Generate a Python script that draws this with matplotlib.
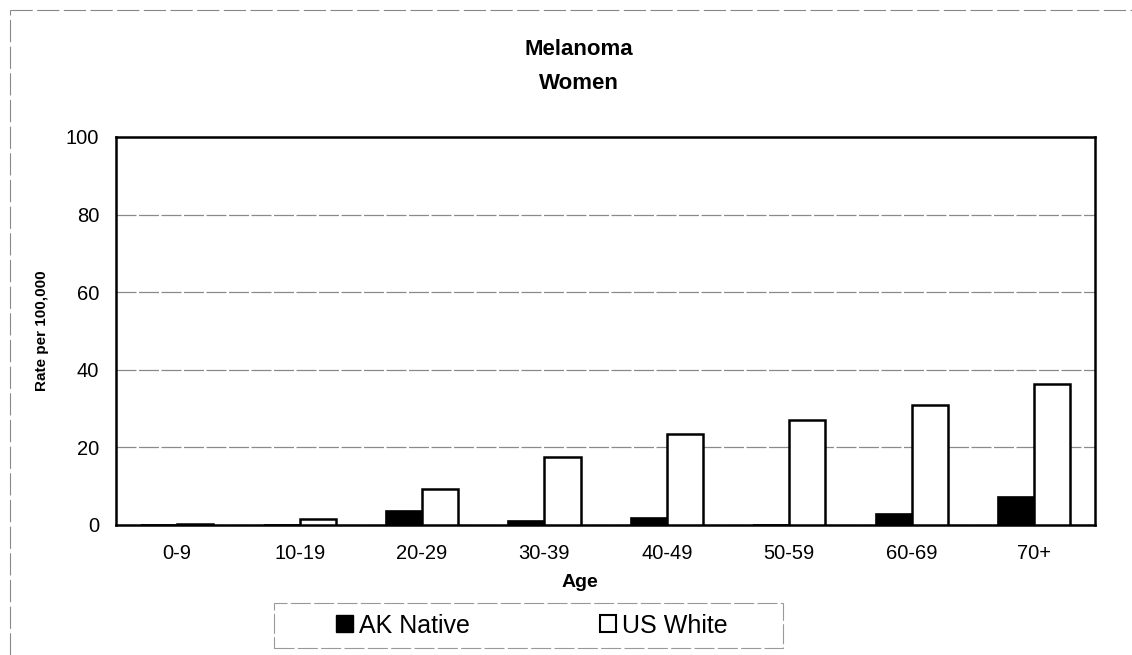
import numpy as np
import matplotlib.pyplot as plt
from matplotlib.lines import Line2D
from matplotlib.patches import Patch, Rectangle

plt.rcParams['font.family'] = ['Liberation Sans', 'DejaVu Sans']

# data
age_groups = ['0-9', '10-19', '20-29', '30-39', '40-49', '50-59', '60-69', '70+']
ak_native = [0.0, 0.0, 3.6, 1.0, 1.9, 0.0, 2.8, 7.3]
us_white = [0.2, 1.5, 9.2, 17.5, 23.5, 27.0, 31.0, 36.3]

fig = plt.figure(figsize=(11.32, 6.55), dpi=100)
ax = fig.add_axes([0.1025, 0.1985, 0.865, 0.5925])

x = np.arange(len(age_groups))
w = 0.295
ax.bar(x - w / 2, ak_native, width=w, color='black', edgecolor='black', linewidth=1.2, zorder=3)
ax.bar(x + w / 2, us_white, width=w, color='white', edgecolor='black', linewidth=1.8, zorder=3)

ax.set_xlim(-0.5, len(age_groups) - 0.5)
ax.set_ylim(0, 100)
ax.set_yticks([0, 20, 40, 60, 80, 100])
ax.set_xticks(x)
ax.set_xticklabels(age_groups)
ax.tick_params(axis='x', length=0, pad=14, labelsize=14.5)
ax.tick_params(axis='y', length=0, pad=12, labelsize=14.5)
ax.yaxis.grid(True, color='#8a8a8a', linewidth=0.9, linestyle=(0, (16, 2)))
ax.set_axisbelow(True)
for s in ax.spines.values():
    s.set_linewidth(1.8)
    s.set_color('black')

ax.set_ylabel('Rate per 100,000', fontsize=11, fontweight='bold', labelpad=12)
fig.text(0.512, 0.111, 'Age', ha='center', va='center', fontsize=14, fontweight='bold')

fig.text(0.511, 0.924, 'Melanoma', ha='center', va='center', fontsize=16, fontweight='bold')
fig.text(0.511, 0.873, 'Women', ha='center', va='center', fontsize=16, fontweight='bold')

# legend: frameless entries inside a drawn box
handles = [Patch(facecolor='black', edgecolor='black'),
           Patch(facecolor='white', edgecolor='black', linewidth=1.5)]
fig.legend(handles, ['AK Native', 'US White'], ncol=2, loc='center',
           bbox_to_anchor=(0.47, 0.045), fontsize=18, frameon=False,
           handlelength=0.65, handleheight=0.65, handletextpad=0.25,
           columnspacing=5.2)
fig.add_artist(Rectangle((0.242, 0.011), 0.4496, 0.0687, transform=fig.transFigure,
                         fill=False, edgecolor='#999999', linewidth=0.8,
                         linestyle=(0, (18, 3))))

# faint scanned border at top and left
fig.add_artist(Line2D([0.009, 1.0], [0.985, 0.985], color='#888888', lw=0.8,
                      linestyle=(0, (20, 4)), transform=fig.transFigure))
fig.add_artist(Line2D([0.009, 0.009], [0.0, 0.985], color='#888888', lw=0.8,
                      linestyle=(0, (20, 4)), transform=fig.transFigure))

fig.savefig('out.png', dpi=100)
